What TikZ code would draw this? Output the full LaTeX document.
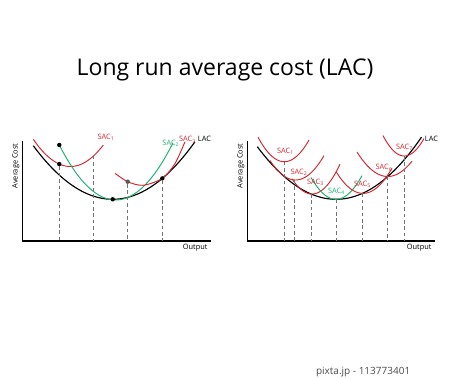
\documentclass[tikz,border=0pt]{standalone}
\usepackage{fontspec}
\setmainfont{Open Sans}
\setsansfont{Open Sans}
\usetikzlibrary{positioning}
\definecolor{sacred}{RGB}{213,38,47}
\definecolor{sacgreen}{RGB}{26,178,106}
\definecolor{dashgray}{RGB}{115,115,115}

\begin{document}
\begin{tikzpicture}[x=1pt, y=-1pt, font=\sffamily\fontsize{7.4}{8}\selectfont]
\tikzstyle{axis}=[black, line width=1.15pt]
\tikzstyle{lac}=[black, line width=1.15pt, samples=80]
\tikzstyle{sac}=[sacred, line width=0.95pt, samples=60]
\tikzstyle{sacg}=[sacgreen, line width=0.95pt, samples=60]
\tikzstyle{drop}=[dashgray, dash pattern=on 3.6pt off 2.8pt, line width=0.75pt]
\tikzstyle{dot}=[circle, fill=black, inner sep=0pt, minimum size=4.4pt]
\useasboundingbox (0,0) rectangle (450,379);

\node[anchor=base, font=\sffamily\fontsize{23}{26}\selectfont] (title) at (225,75.7) {Long run average cost (LAC)};

\coordinate (o1) at (22.7,241);
\coordinate (o2) at (247.7,241);
\draw[axis] (22.7,141) -- (o1) -- (211,241);
\draw[axis] (247.7,141) -- (o2) -- (435,241);
\node[rotate=90] (yl1) at (15.8,166) {Average Cost};
\node[rotate=90] (yl2) at (240.8,166) {Average Cost};
\node[anchor=base east] (xl1) at (211,250) {Output};
\node[anchor=base east] (xl2) at (435,250) {Output};

\draw[lac] plot[domain=33.3:195] (\x, {199.3-0.0085*(\x-112.7)*(\x-112.7)});
\draw[sac] plot[domain=33.3:103.3] (\x, {166.5-0.0198*(\x-70.4)*(\x-70.4)});
\draw[sacg] plot[domain=59.3:173] (\x, {200-0.01735*(\x-115.6)*(\x-115.6)});
\draw[sac] plot[smooth] coordinates {(115,173.3) (127.7,181.7) (143,185.3) (162.3,178.4) (175,163.5) (185,141.7)};

\node[dot] (a1) at (59.3,145) {};
\node[dot] (a2) at (59.3,164.1) {};
\node[dot] (a3) at (112.7,199.3) {};
\node[dot, fill=black!65] (a4) at (127.7,181.7) {};
\node[dot] (a5) at (162.3,178.4) {};
\coordinate (a6) at (93.7,155.8);
\foreach \p in {a2,a4,a5,a6} \draw[drop] (\p) -- (\p |- o1);

\node[text=sacred] (s1) at (106,137.5) {SAC\textsubscript{1}};
\node[text=sacgreen] (s2) at (170.8,143) {SAC\textsubscript{2}};
\node[text=sacred] (s3) at (187.5,140) {SAC\textsubscript{3}};
\node (lac1) at (204.5,139) {LAC};

\draw[lac] plot[domain=257.3:421.5] (\x, {199.3-0.0085*(\x-336)*(\x-336)});
\draw[sac] plot[domain=258:309] (\x, {161.7-0.0355*(\x-284.3)*(\x-284.3)});
\draw[sac] plot[domain=270:324] (\x, {180-0.03*(\x-295.5)*(\x-295.5)});
\draw[sac] plot[domain=292:340] (\x, {194-0.038*(\x-312)*(\x-312)});
\draw[sacg] plot[domain=311:362] (\x, {199.3-0.035*(\x-336)*(\x-336)});
\draw[sac] plot[domain=336:392] (\x, {193.4-0.03*(\x-363)*(\x-363)});
\draw[sac] plot[domain=357:412] (\x, {176.5-0.026*(\x-387.7)*(\x-387.7)});
\draw[sac] plot[domain=383:424] (\x, {156-0.045*(\x-404.3)*(\x-404.3)});

\coordinate (b1) at (284.3,161.7);
\coordinate (b2) at (294.3,179.9);
\coordinate (b3) at (311.7,194);
\coordinate (b4) at (336,199.3);
\coordinate (b5) at (362.3,193.4);
\coordinate (b6) at (387.7,176.5);
\coordinate (b7) at (404.3,156);
\foreach \p in {b1,b2,b3,b4,b5,b6,b7} \draw[drop] (\p) -- (\p |- o2);

\node[text=sacred] (r1) at (285.5,151) {SAC\textsubscript{1}};
\node[text=sacred] (r2) at (299,172) {SAC\textsubscript{2}};
\node[text=sacred] (r3) at (315.5,182.5) {SAC\textsubscript{3}};
\node[text=sacgreen] (r4) at (336.5,191.5) {SAC\textsubscript{4}};
\node[text=sacred] (r5) at (362.5,184) {SAC\textsubscript{5}};
\node[text=sacred] (r6) at (384,168) {SAC\textsubscript{6}};
\node[text=sacred] (r7) at (404.5,147) {SAC\textsubscript{7}};
\node (lac2) at (431.5,138.5) {LAC};

\node[anchor=base west, text=black!70, font=\sffamily\fontsize{10}{12}\selectfont] (mark) at (312.5,374.4) {pixta.jp - 113773401};
\end{tikzpicture}
\end{document}
